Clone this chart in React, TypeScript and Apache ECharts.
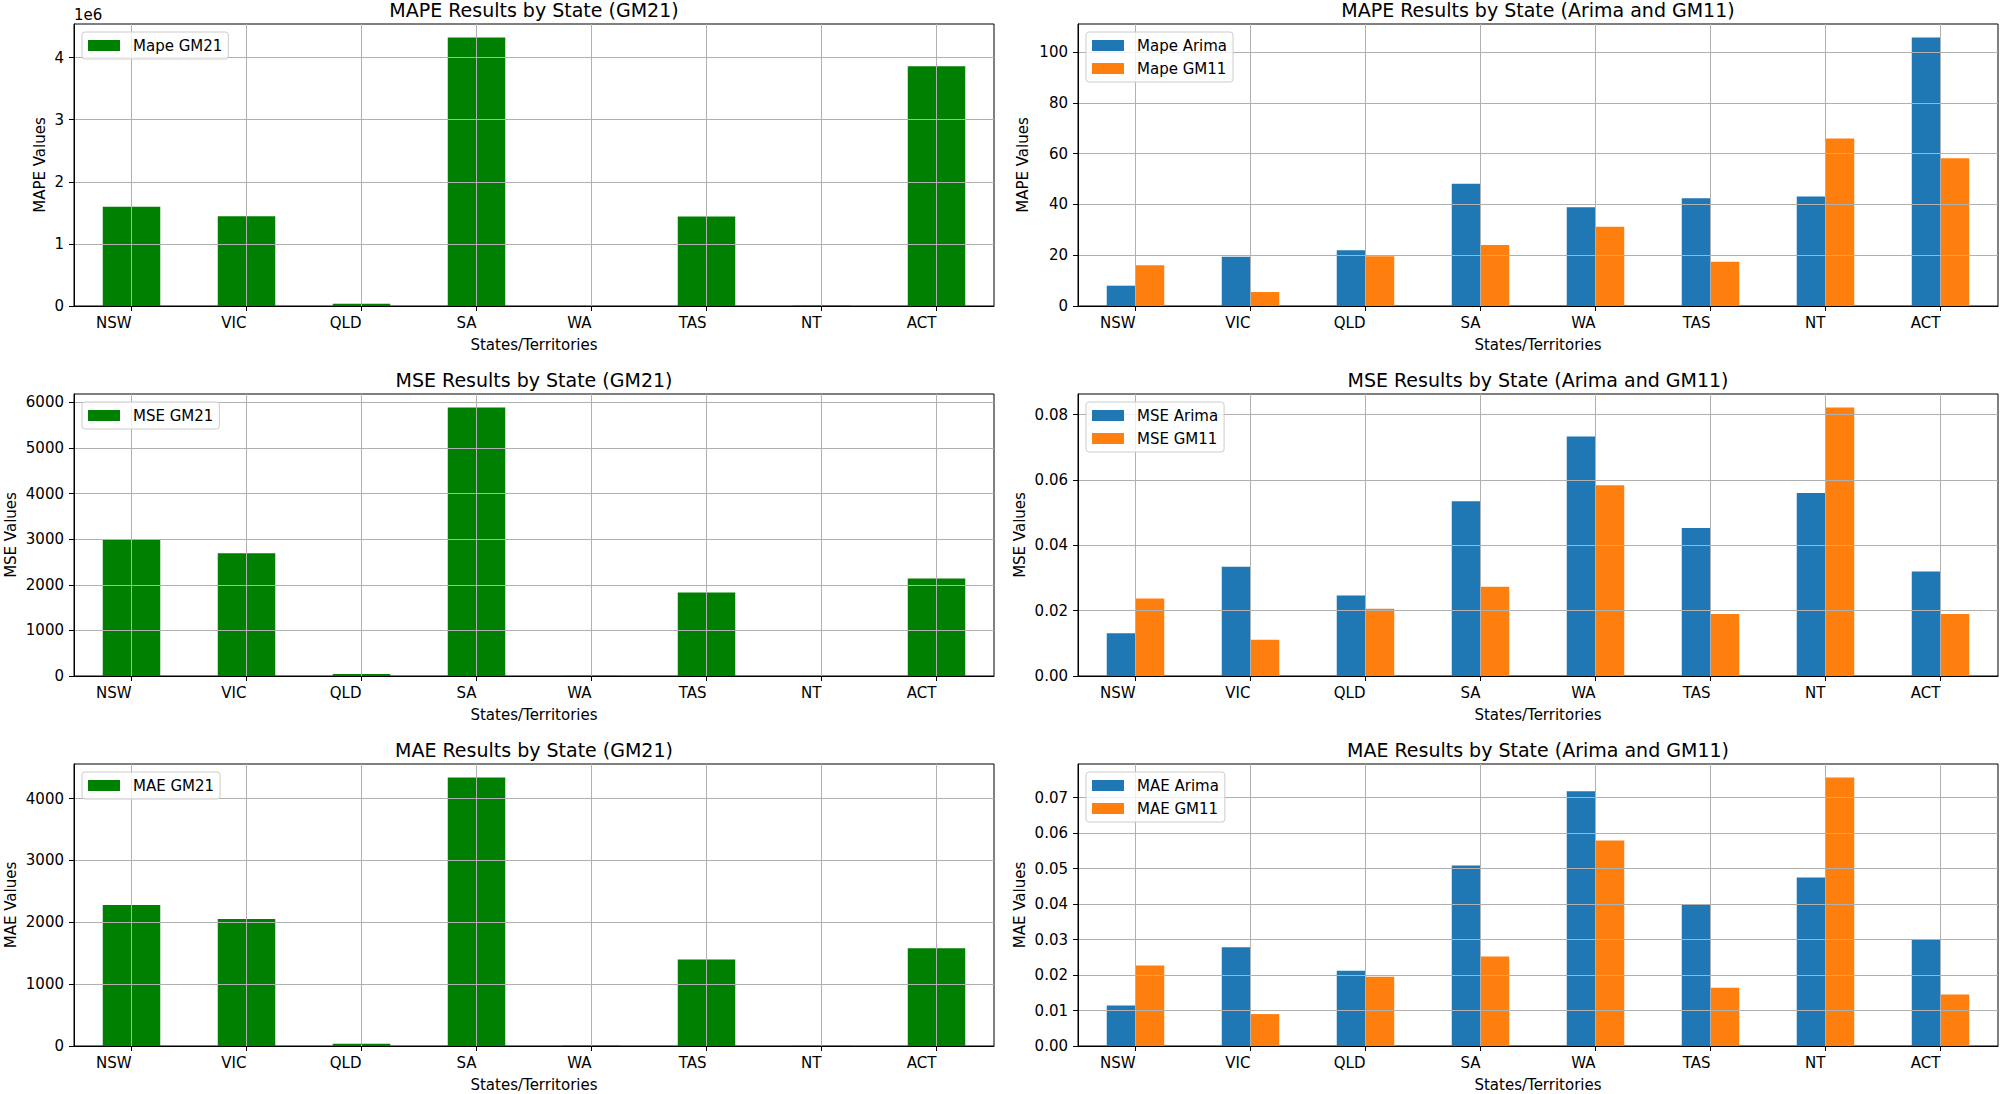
import React, { useEffect, useRef } from "react";
import * as echarts from "echarts";

const states = ["NSW", "VIC", "QLD", "SA", "WA", "TAS", "NT", "ACT"];

const mapeGm21 = [1600000, 1445000, 35000, 4325000, 2000, 1440000, 8000, 3860000];
const mapeArima = [8.0, 19.4, 22.0, 48.2, 38.9, 42.4, 43.1, 105.8];
const mapeGm11 = [16.1, 5.5, 19.6, 24.0, 31.2, 17.4, 66.0, 58.2];

const mseGm21 = [2990, 2690, 44, 5890, 5, 1830, 2, 2140];
const mseArima = [0.0131, 0.0334, 0.0246, 0.0535, 0.0733, 0.0453, 0.056, 0.032];
const mseGm11 = [0.0237, 0.0111, 0.0206, 0.0273, 0.0584, 0.019, 0.0822, 0.019];

const maeGm21 = [2281, 2054, 38, 4341, 10, 1400, 5, 1578];
const maeArima = [0.0114, 0.0278, 0.0212, 0.0509, 0.0718, 0.0398, 0.0475, 0.03];
const maeGm11 = [0.0227, 0.009, 0.0195, 0.0252, 0.0579, 0.0164, 0.0757, 0.0145];

const mapeGm21Ticks = [0, 1000000, 2000000, 3000000, 4000000];
const mapeTicks = [0, 20, 40, 60, 80, 100];
const mseGm21Ticks = [0, 1000, 2000, 3000, 4000, 5000, 6000];
const mseTicks = [0, 0.02, 0.04, 0.06, 0.08];
const maeGm21Ticks = [0, 1000, 2000, 3000, 4000];
const maeTicks = [0, 0.01, 0.02, 0.03, 0.04, 0.05, 0.06, 0.07];

const GREEN = "#008000";
const BLUE = "#1f77b4";
const ORANGE = "#ff7f0e";
const FONT = "DejaVu Sans";

type Panel = {
  title: string;
  yName: string;
  nameGap: number;
  row: number;
  col: number;
  ticks: number[];
  fmt: (v: number) => string;
  series: { name: string; data: number[]; color: string }[];
};

const panels: Panel[] = [
  {
    title: "MAPE Results by State (GM21)", yName: "MAPE Values", nameGap: 27, row: 0, col: 0,
    ticks: mapeGm21Ticks, fmt: (v) => String(Math.round(v / 1e6)),
    series: [{ name: "Mape GM21", data: mapeGm21, color: GREEN }],
  },
  {
    title: "MAPE Results by State (Arima and GM11)", yName: "MAPE Values", nameGap: 48, row: 0, col: 1,
    ticks: mapeTicks, fmt: (v) => String(Math.round(v)),
    series: [
      { name: "Mape Arima", data: mapeArima, color: BLUE },
      { name: "Mape GM11", data: mapeGm11, color: ORANGE },
    ],
  },
  {
    title: "MSE Results by State (GM21)", yName: "MSE Values", nameGap: 56, row: 1, col: 0,
    ticks: mseGm21Ticks, fmt: (v) => String(Math.round(v)),
    series: [{ name: "MSE GM21", data: mseGm21, color: GREEN }],
  },
  {
    title: "MSE Results by State (Arima and GM11)", yName: "MSE Values", nameGap: 51, row: 1, col: 1,
    ticks: mseTicks, fmt: (v) => v.toFixed(2),
    series: [
      { name: "MSE Arima", data: mseArima, color: BLUE },
      { name: "MSE GM11", data: mseGm11, color: ORANGE },
    ],
  },
  {
    title: "MAE Results by State (GM21)", yName: "MAE Values", nameGap: 56, row: 2, col: 0,
    ticks: maeGm21Ticks, fmt: (v) => String(Math.round(v)),
    series: [{ name: "MAE GM21", data: maeGm21, color: GREEN }],
  },
  {
    title: "MAE Results by State (Arima and GM11)", yName: "MAE Values", nameGap: 51, row: 2, col: 1,
    ticks: maeTicks, fmt: (v) => v.toFixed(2),
    series: [
      { name: "MAE Arima", data: maeArima, color: BLUE },
      { name: "MAE GM11", data: maeGm11, color: ORANGE },
    ],
  },
];

const colLeft = [74, 1078];
const rowTop = [24, 394, 764];
const GRID_W = 920;
const GRID_H = 282;

function buildOption() {
  const grids: any[] = [];
  const xAxes: any[] = [];
  const yAxes: any[] = [];
  const series: any[] = [];
  const legends: any[] = [];
  const titles: any[] = [];

  panels.forEach((p, i) => {
    const left = colLeft[p.col];
    const top = rowTop[p.row];
    grids.push({
      left, top, width: GRID_W, height: GRID_H,
      show: true, borderColor: "#000", borderWidth: 1, backgroundColor: "transparent",
      containLabel: false,
    });
    let maxV = 0;
    p.series.forEach((s) => s.data.forEach((v) => { if (v > maxV) maxV = v; }));
    xAxes.push({
      type: "category", gridIndex: i, data: states, z: 3,
      boundaryGap: true,
      axisLine: { show: true, lineStyle: { color: "#000", width: 1 } },
      axisTick: { show: true, alignWithLabel: true, length: 5, lineStyle: { color: "#000", width: 1 } },
      axisLabel: { align: "right", margin: 9, fontSize: 15, color: "#000", fontFamily: FONT, interval: 0 },
      splitLine: { show: true, alignWithLabel: true, lineStyle: { color: "#b0b0b0", width: 1 } },
      name: "States/Territories", nameLocation: "middle", nameGap: 31,
      nameTextStyle: { fontSize: 15, color: "#000", fontFamily: FONT },
    });
    yAxes.push({
      type: "value", gridIndex: i, z: 3,
      min: 0, max: maxV * 1.05, interval: p.ticks[1] - p.ticks[0],
      axisLine: { show: true, lineStyle: { color: "#000", width: 1 } },
      axisTick: { show: true, length: 5, customValues: p.ticks, lineStyle: { color: "#000", width: 1 } },
      axisLabel: {
        customValues: p.ticks, margin: 10, fontSize: 15, color: "#000", fontFamily: FONT,
        formatter: (v: number) => p.fmt(v),
      },
      splitLine: { show: true, lineStyle: { color: "#b0b0b0", width: 1 } },
      name: p.yName, nameLocation: "middle", nameRotate: 90, nameGap: p.nameGap,
      nameTextStyle: { fontSize: 15, color: "#000", fontFamily: FONT },
    });
    const single = p.series.length === 1;
    p.series.forEach((s) => {
      series.push({
        type: "bar", name: s.name, data: s.data, xAxisIndex: i, yAxisIndex: i,
        barWidth: single ? "50%" : "25%", barGap: "0%",
        itemStyle: { color: s.color },
        emphasis: { disabled: true },
      });
    });
    legends.push({
      data: p.series.map((s) => s.name),
      left: left + 8, top: top + 8, orient: "vertical",
      icon: "rect", itemWidth: 32, itemHeight: 11, itemGap: 8,
      padding: [6, 6, 6, 6],
      backgroundColor: "rgba(255,255,255,0.8)", borderColor: "#cccccc", borderWidth: 1, borderRadius: 3,
      textStyle: { fontSize: 15, color: "#000", fontFamily: FONT, padding: [0, 0, 0, 8] },
      selectedMode: false,
    });
    titles.push({
      text: p.title, left: left + GRID_W / 2, textAlign: "center", top: top - 24, padding: 0,
      textStyle: { fontSize: 19, fontWeight: "normal", color: "#000", fontFamily: FONT },
    });
  });

  return {
    animation: false,
    backgroundColor: "#fff",
    textStyle: { fontFamily: FONT },
    title: titles,
    grid: grids,
    xAxis: xAxes,
    yAxis: yAxes,
    legend: legends,
    series,
    graphic: [
      { type: "text", left: 74, top: 7, style: { text: "1e6", fontSize: 15, fill: "#000", fontFamily: FONT } },
    ],
  };
}

export default function App() {
  const ref = useRef<HTMLDivElement>(null);
  useEffect(() => {
    if (!ref.current) return;
    const chart = echarts.init(ref.current, null, { renderer: "svg" });
    chart.setOption(buildOption() as any);
    return () => chart.dispose();
  }, []);
  return (
    <div
      ref={ref}
      style={{ position: "absolute", left: 0, top: 0, width: 2000, height: 1094, background: "#fff" }}
    />
  );
}
